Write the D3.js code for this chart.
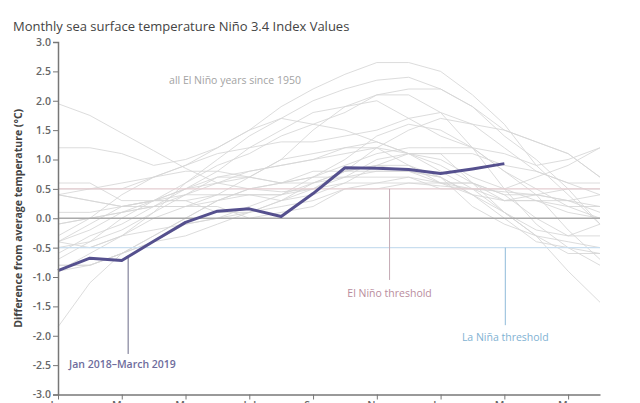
<!DOCTYPE html>
<html><head><meta charset="utf-8">
<script src="https://cdn.jsdelivr.net/npm/d3@7"></script>
<style>body{margin:0;background:#fff} svg{display:block} text{font-family:"Open Sans",sans-serif}</style>
</head><body><svg id="c" width="640" height="403"></svg>
<script>
// ---- data ----
const monthLabels = ["Jan","Feb","Mar","Apr","May","Jun","Jul","Aug","Sep","Oct","Nov","Dec","Jan","Feb","Mar","Apr","May","Jun"];
const tickLabels = ["Jan","Mar","May","Jul","Sep","Nov","Jan","Mar","May"];
const yTicks = [-3,-2.5,-2,-1.5,-1,-0.5,0,0.5,1,1.5,2,2.5,3];
const elNinoThreshold = 0.5;
const laNinaThreshold = -0.5;

// Jan 2018 – March 2019
const current = [-0.89,-0.68,-0.72,-0.39,-0.07,0.12,0.16,0.03,0.42,0.86,0.85,0.83,0.76,0.84,0.93];

// all El Niño years since 1950 (Jan of year 0 to Jun of year 1)
const s1951 = [-0.9,-0.6,-0.3,0.1,0.4,0.6,0.8,0.9,1.0,1.1,1.2,0.9,0.6,0.4,0.3,0.3,0.2,0.0];
const s1953 = [0.4,0.5,0.6,0.7,0.8,0.8,0.7,0.6,0.8,0.8,0.8,0.8,0.7,0.4,0.0,-0.4,-0.5,-0.6];
const s1957 = [-0.3,0.0,0.4,0.7,0.9,1.1,1.2,1.3,1.3,1.4,1.5,1.7,1.8,1.6,1.2,0.8,0.6,0.6];
const s1958 = [1.95,1.75,1.45,1.15,0.85,0.6,0.5,0.45,0.5,0.6,0.6,0.6,0.55,0.5,0.45,0.4,0.3,0.2];
const s1963 = [-0.4,-0.2,0.1,0.2,0.2,0.4,0.7,1.0,1.1,1.2,1.2,1.1,1.1,0.6,0.1,-0.3,-0.6,-0.6];
const s1965 = [-0.6,-0.3,-0.1,0.2,0.5,0.8,1.2,1.5,1.8,1.9,2.0,1.7,1.4,1.2,0.8,0.5,0.2,0.2];
const s1968 = [-0.8,-0.8,-0.6,-0.3,0.0,0.3,0.4,0.3,0.4,0.6,0.9,1.1,1.1,1.1,0.9,0.8,0.6,0.4];
const s1972 = [-0.7,-0.4,0.0,0.3,0.6,0.9,1.1,1.4,1.6,1.8,2.1,2.1,1.8,1.2,0.5,-0.1,-0.5,-0.8];
const s1976 = [-1.85,-1.1,-0.6,-0.4,-0.3,-0.1,0.1,0.3,0.6,0.8,0.9,0.8,0.6,0.6,0.3,0.3,0.3,0.4];
const s1977 = [0.6,0.6,0.3,0.3,0.3,0.4,0.4,0.4,0.5,0.7,0.8,0.8,0.7,0.4,0.1,-0.2,-0.3,-0.3];
const s1979 = [-0.4,-0.1,0.2,0.3,0.3,0.1,0.1,0.2,0.3,0.5,0.5,0.6,0.6,0.5,0.3,0.4,0.5,0.5];
const s1982 = [-0.1,0.0,0.1,0.3,0.5,0.7,0.7,1.0,1.5,1.9,2.1,2.2,2.2,1.9,1.5,1.3,1.1,0.7];
const s1986 = [-0.5,-0.5,-0.3,-0.2,-0.1,0.0,0.2,0.4,0.7,0.9,1.1,1.2,1.2,1.2,1.1,0.9,1.0,1.2];
const s1987 = [1.2,1.2,1.1,0.9,1.0,1.2,1.5,1.7,1.6,1.5,1.3,1.1,0.8,0.5,0.1,-0.3,-0.9,-1.43];
const s1991 = [0.4,0.3,0.2,0.3,0.5,0.6,0.7,0.6,0.6,0.8,1.2,1.5,1.7,1.6,1.5,1.3,1.1,0.7];
const s1994 = [0.1,0.1,0.2,0.3,0.4,0.4,0.4,0.4,0.6,0.7,1.0,1.1,1.0,0.7,0.5,0.3,0.1,0.0];
const s1997 = [-0.5,-0.4,-0.2,0.1,0.6,1.0,1.4,1.7,2.0,2.2,2.35,2.4,2.2,1.9,1.4,1.0,0.5,-0.1];
const s2002 = [-0.1,0.0,0.1,0.2,0.4,0.7,0.8,0.9,1.0,1.2,1.3,1.1,0.9,0.6,0.4,0.0,-0.3,-0.1];
const s2004 = [0.4,0.3,0.2,0.2,0.2,0.3,0.5,0.6,0.7,0.7,0.7,0.7,0.6,0.6,0.4,0.4,0.3,0.1];
const s2006 = [-0.9,-0.8,-0.6,-0.4,-0.1,0.0,0.1,0.3,0.5,0.8,0.9,0.9,0.7,0.2,-0.1,-0.3,-0.4,-0.5];
const s2009 = [-0.8,-0.8,-0.6,-0.3,0.0,0.3,0.5,0.6,0.7,1.0,1.4,1.6,1.5,1.2,0.8,0.4,-0.2,-0.7];
const s2014 = [-0.4,-0.5,-0.3,0.0,0.2,0.2,0.0,0.1,0.2,0.5,0.6,0.7,0.5,0.5,0.5,0.7,0.9,1.2];
const s2015 = [0.5,0.5,0.5,0.7,0.9,1.2,1.5,1.9,2.2,2.45,2.65,2.65,2.5,2.1,1.6,0.9,0.4,-0.1];
const elNinoYears = [s1951,s1953,s1957,s1958,s1963,s1965,s1968,s1972,s1976,s1977,s1979,s1982,
  s1986,s1987,s1991,s1994,s1997,s2002,s2004,s2006,s2009,s2014,s2015];

// ---- chart ----
const svg = d3.select("#c");
const x = d3.scaleLinear().domain([0, monthLabels.length - 1]).range([58, 600]);
const y = d3.scaleLinear().domain([-3, 3]).range([394.5, 42]);

svg.append("text").attr("x", 13).attr("y", 31).attr("font-size", 13).attr("fill", "#444")
  .text("Monthly sea surface temperature Niño 3.4 Index Values");

const line = d3.line().x((d, i) => x(i)).y(d => y(d));

// gray lines
svg.append("g").selectAll("path").data(elNinoYears).join("path")
  .attr("d", line).attr("fill", "none").attr("stroke", "#d6d6d6").attr("stroke-width", 1)
  .attr("stroke-opacity", 0.85);

// reference lines
const hl = svg.append("g");
hl.append("line").attr("x1", x(0)).attr("x2", x(17)).attr("y1", y(0)).attr("y2", y(0))
  .attr("stroke", "#aaa").attr("stroke-width", 1.3);
hl.append("line").attr("x1", x(0)).attr("x2", x(17)).attr("y1", y(elNinoThreshold)).attr("y2", y(elNinoThreshold))
  .attr("stroke", "#e4cdd1").attr("stroke-width", 1.2);
hl.append("line").attr("x1", x(0)).attr("x2", x(17)).attr("y1", y(laNinaThreshold)).attr("y2", y(laNinaThreshold))
  .attr("stroke", "#c9deef").attr("stroke-width", 1.2);

// annotations
const ann = svg.append("g");
ann.append("line").attr("x1", x(10.4)).attr("x2", x(10.4)).attr("y1", y(elNinoThreshold)).attr("y2", y(-1.05))
  .attr("stroke", "#c4a9b4").attr("stroke-width", 1);
ann.append("text").attr("x", x(10.4)).attr("y", y(-1.28)).attr("dy", "0.35em").attr("text-anchor", "middle")
  .attr("font-size", 10.5).attr("fill", "#b98c9d").text("El Niño threshold");
ann.append("line").attr("x1", x(14.03)).attr("x2", x(14.03)).attr("y1", y(laNinaThreshold)).attr("y2", y(-1.82))
  .attr("stroke", "#8fbbd9").attr("stroke-width", 1);
ann.append("text").attr("x", x(14.03)).attr("y", y(-2.03)).attr("dy", "0.35em").attr("text-anchor", "middle")
  .attr("font-size", 10.5).attr("fill", "#7fb2d3").text("La Niña threshold");
ann.append("line").attr("x1", x(2.2)).attr("x2", x(2.2)).attr("y1", y(-0.65)).attr("y2", y(-2.31))
  .attr("stroke", "#6b6b88").attr("stroke-width", 1);
ann.append("text").attr("x", 69).attr("y", y(-2.48)).attr("dy", "0.35em")
  .attr("font-size", 10.5).attr("font-weight", 600).attr("fill", "#6e6c9c").text("Jan 2018–March 2019");
ann.append("text").attr("x", 235).attr("y", y(2.35)).attr("dy", "0.35em").attr("text-anchor", "middle")
  .attr("font-size", 10.5).attr("fill", "#a3a3a3").text("all El Niño years since 1950");

// current line
svg.append("path").datum(current).attr("d", line).attr("fill", "none")
  .attr("stroke", "#55508e").attr("stroke-width", 3).attr("stroke-linejoin", "round");

// axes
const yAxis = svg.append("g").attr("transform", "translate(58,0)")
  .call(d3.axisLeft(y).tickValues(yTicks).tickFormat(d => d.toFixed(1)).tickSize(5).tickPadding(2));
yAxis.select(".domain").attr("stroke", "#777").attr("stroke-width", 1.5);
yAxis.selectAll(".tick line").attr("stroke", "#777");
yAxis.selectAll(".tick text").attr("font-size", 10.5).attr("font-weight", 600).attr("fill", "#666")
  .attr("font-family", "'Open Sans',sans-serif");

const tickIdx = tickLabels.map((d, i) => i * 2);
const xAxis = svg.append("g").attr("transform", `translate(0,${y(-3)})`)
  .call(d3.axisBottom(x).tickValues(tickIdx).tickFormat((d, i) => tickLabels[i]).tickSize(5).tickPadding(2).tickSizeOuter(0));
xAxis.select(".domain").attr("stroke", "#777").attr("stroke-width", 1.5);
xAxis.selectAll(".tick line").attr("stroke", "#777");
xAxis.selectAll(".tick text").attr("font-size", 10.5).attr("font-weight", 600).attr("fill", "#666")
  .attr("font-family", "'Open Sans',sans-serif");

svg.append("text").attr("transform", `translate(18,${y(0)}) rotate(-90)`).attr("dy", "0.35em")
  .attr("text-anchor", "middle").attr("font-size", 10.5).attr("font-weight", 700).attr("fill", "#444")
  .text("Difference from average temperature (°C)");
</script></body></html>
